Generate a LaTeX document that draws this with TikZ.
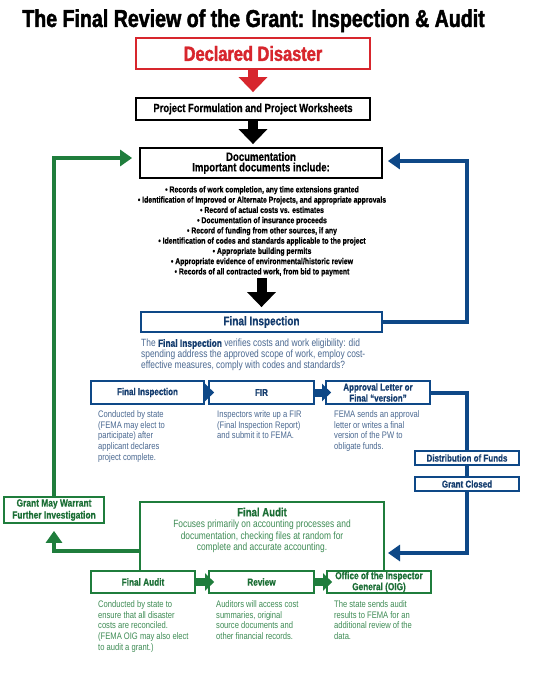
\documentclass[tikz,border=0pt]{standalone}
\usepackage{fontspec}
\usepackage{graphicx}
\setmainfont{Liberation Sans}
\newfontfamily\cn[FakeStretch=0.8, BoldFeatures={FakeBold=0.6}]{Liberation Sans}
\newfontfamily\cnh[FakeStretch=0.8, FakeBold=1.8]{Liberation Sans}
\usetikzlibrary{arrows.meta}
\definecolor{dred}{HTML}{D7262D}
\definecolor{bline}{HTML}{0E4887}
\definecolor{bhead}{HTML}{143C6E}
\definecolor{btext}{HTML}{4B6991}
\definecolor{gline}{HTML}{1F7D3C}
\definecolor{ghead}{HTML}{1B6E35}
\definecolor{gtext}{HTML}{3F8C55}
\begin{document}
\begin{tikzpicture}[x=1pt,y=-1pt,
  box/.style={draw, line width=1.8pt, fill=white, inner sep=1pt, align=center, font=\cn\bfseries\fontsize{10}{11}\selectfont},
  redbox/.style={box, draw=dred, text=dred, font=\cnh\bfseries\fontsize{20.5}{21}\selectfont},
  blkbox/.style={box, draw=black, text=black},
  bluebox/.style={box, draw=bline, text=bhead},
  greenbox/.style={box, draw=gline, text=ghead},
  bodyb/.style={inner sep=0pt, anchor=north west, align=left, text=btext, font=\cn\fontsize{9.5}{10.7}\selectfont},
  bodyg/.style={bodyb, text=gtext},
  bigarrow/.style={line width=10pt, -{Triangle[width=28pt,length=15pt]}},
  bconn/.style={draw=bline, line width=4pt},
  gconn/.style={draw=gline, line width=4pt},
  ctip/.style={-{Triangle[width=16pt,length=12pt]}},
  smallarrow/.style={line width=8pt, -{Triangle[width=17pt,length=9pt]}, shorten >=-6pt}
]
\useasboundingbox (0,0) rectangle (538,687);
\fill[white] (0,0) rectangle (538,687);

% title
\node[anchor=base, inner sep=0pt, font=\cnh\bfseries\fontsize{24.5}{24.5}\selectfont] (title) at (253.5,27) {The Final Review of the Grant: Inspection \& Audit};

% top chain
\node[redbox, minimum width=234pt, minimum height=31pt] (decl) at (253,53.5) {Declared Disaster};
\node[blkbox, minimum width=234pt, minimum height=22pt, font=\cn\bfseries\fontsize{11.8}{13}\selectfont] (proj) at (253,109) {Project Formulation and Project Worksheets};
\node[blkbox, minimum width=242pt, minimum height=30pt, font=\cn\bfseries\fontsize{12}{10.5}\selectfont] (doc) at (261,163) {Documentation\\Important documents include:};

\node[inner sep=0pt, anchor=north, align=center, font=\cn\bfseries\fontsize{8.6}{10.25}\selectfont] (list) at (262,186) {%
• Records of work completion, any time extensions granted\\
• Identification of Improved or Alternate Projects, and appropriate approvals\\
• Record of actual costs vs. estimates\\
• Documentation of insurance proceeds\\
• Record of funding from other sources, if any\\
• Identification of codes and standards applicable to the project\\
• Appropriate building permits\\
• Appropriate evidence of environmental/historic review\\
• Records of all contracted work, from bid to payment};

\node[bluebox, minimum width=241pt, minimum height=20pt, font=\cn\bfseries\fontsize{12.5}{13}\selectfont] (fi) at (261.5,322) {Final Inspection};
\node[bodyb, font=\cn\fontsize{10.5}{11}\selectfont] (fidesc) at (141,339) {The {\color{bhead}\bfseries Final Inspection} verifies costs and work eligibility: did\\spending address the approved scope of work, employ cost-\\effective measures, comply with codes and standards?};

% blue row
\node[bluebox, minimum width=113pt, minimum height=23pt] (b1) at (147.5,392.5) {Final Inspection};
\node[bluebox, minimum width=105pt, minimum height=23pt] (b2) at (261.5,392.5) {FIR};
\node[bluebox, minimum width=104pt, minimum height=23pt] (b3) at (378,392.5) {Approval Letter or\\Final “version”};
\node[bodyb] (b1t) at (98,410.5) {Conducted by state\\(FEMA may elect to\\participate) after\\applicant declares\\project complete.};
\node[bodyb] (b2t) at (217,410.5) {Inspectors write up a FIR\\(Final Inspection Report)\\and submit it to FEMA.};
\node[bodyb] (b3t) at (334,410.5) {FEMA sends an approval\\letter or writes a final\\version of the PW to\\obligate funds.};

\node[bluebox, minimum width=104pt, minimum height=14pt] (dist) at (467,458) {Distribution of Funds};
\node[bluebox, minimum width=104pt, minimum height=14pt] (closed) at (467,484) {Grant Closed};

% green part
\node[greenbox, minimum width=100pt, minimum height=26pt, font=\cn\bfseries\fontsize{10.5}{12}\selectfont] (grant) at (54,510) {Grant May Warrant\\Further Investigation};

\node[minimum width=244pt, minimum height=68pt, inner sep=0pt] (fa) at (262,536) {};
\draw[gline, line width=1.8pt] (fa.south west) -- (fa.north west) -- (fa.north east) -- (fa.south east);
\node[inner sep=0pt, text=ghead, font=\cn\bfseries\fontsize{12}{12}\selectfont] (fatitle) at (262,512) {Final Audit};
\node[inner sep=0pt, anchor=north, align=center, text=gtext, font=\cn\fontsize{10.5}{11.5}\selectfont] (fabody) at (262,520) {Focuses primarily on accounting processes and\\documentation, checking files at random for\\complete and accurate accounting.};

\node[greenbox, minimum width=104pt, minimum height=22pt, font=\cn\bfseries\fontsize{10.3}{11}\selectfont] (a1) at (143,582) {Final Audit};
\node[greenbox, minimum width=105pt, minimum height=22pt, font=\cn\bfseries\fontsize{10.3}{11}\selectfont] (a2) at (261.5,582) {Review};
\node[greenbox, minimum width=104pt, minimum height=22pt, font=\cn\bfseries\fontsize{10.3}{11}\selectfont] (a3) at (379,582) {Office of the Inspector\\General (OIG)};
\node[bodyg] (a1t) at (98,600.5) {Conducted by state to\\ensure that all disaster\\costs are reconciled.\\(FEMA OIG may also elect\\to audit a grant.)};
\node[bodyg] (a2t) at (216,600.5) {Auditors will access cost\\summaries, original\\source documents and\\other financial records.};
\node[bodyg] (a3t) at (334,600.5) {The state sends audit\\results to FEMA for an\\additional review of the\\data.};

% coordinates
\coordinate (bR) at (467,161);
\coordinate (bL) at (384,553);
\coordinate (gT) at (54,158);
\coordinate (gL) at (140,551);

% connectors
\draw[bigarrow, dred, shorten >=5pt] (decl.south) -- (proj.north);
\draw[bigarrow, black, shorten >=3pt] (proj.south) -- (proj.south |- doc.north);
\draw[bigarrow, black, shorten >=4pt, shorten <=2pt] (list.south -| fi.north) -- (fi.north);

\draw[bconn, ctip, shorten >=5pt] (fi.east) -| (bR) -- (bR -| doc.east);
\draw[bconn] (b3.east) -| (dist.north);
\draw[bconn] (dist.south) -- (closed.north);
\draw[bconn, ctip, shorten >=4pt] (closed.south) |- (bL);

\draw[gconn, ctip, shorten >=7pt] (grant.north) -- (gT) -- (gT -| doc.west);
\draw[gconn, ctip, shorten >=7pt] (gL) -| (grant.south);

\draw[smallarrow, bline] (b1.east) -- (b2.west);
\draw[smallarrow, bline] (b2.east) -- (b3.west);
\draw[smallarrow, gline] (a1.east) -- (a2.west);
\draw[smallarrow, gline] (a2.east) -- (a3.west);
\end{tikzpicture}
\end{document}
